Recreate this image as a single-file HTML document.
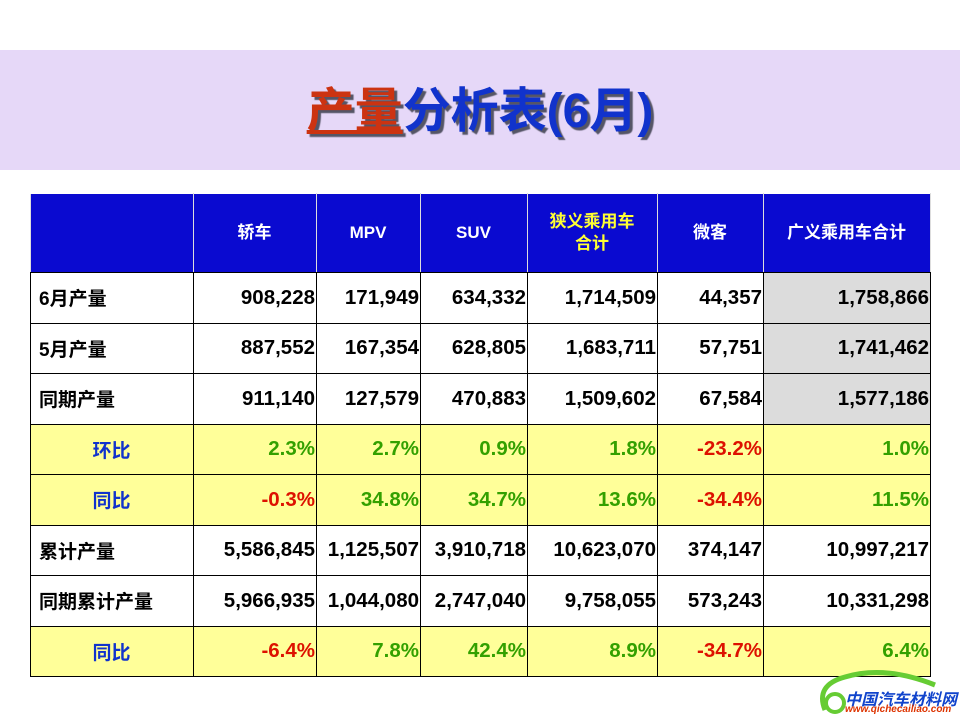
<!DOCTYPE html>
<html><head><meta charset="utf-8"><style>
body{margin:0;width:960px;height:720px;background:#fff;position:relative;overflow:hidden;font-family:"Liberation Sans","Noto Sans CJK SC",sans-serif}
.band{position:absolute;left:0;top:50px;width:960px;height:120px;background:#e6d8f8}
.title{position:absolute;left:0;top:84px;width:960px;text-align:center;font-size:48px;line-height:56px;font-weight:bold;color:#1133cc;text-shadow:3px 3px 1px #556}
.title u{color:#cc3311}
table{position:absolute;left:30px;top:193px;border-collapse:collapse;table-layout:fixed}
td{border:1px solid #000;font-weight:bold;font-size:20.5px;text-align:right;padding:0 1px 0 0;height:49.5px;color:#000;white-space:nowrap}
tr.h td{background:#0a0ad0;color:#fff;text-align:center;font-size:17px;height:78px;border-color:#fff #ddd #000 #ddd;line-height:22px}
td.l{text-align:left;padding-left:8px;font-size:19px}
tr.y td{background:#ffff99}
td.c{text-align:center;color:#1133cc;font-size:19px}
.g{color:#33a000}.r{color:#dd1100}
td.gr{background:#dcdcdc}
</style></head><body>
<div class="band"></div>
<div class="title"><u>产量</u>分析表(6月)</div>
<table>
<colgroup><col style="width:163px"><col style="width:123px"><col style="width:104px"><col style="width:107px"><col style="width:130px"><col style="width:106px"><col style="width:167px"></colgroup>
<tr class="h"><td></td><td>轿车</td><td>MPV</td><td>SUV</td><td style="color:#ffff33">狭义乘用车<br>合计</td><td>微客</td><td>广义乘用车合计</td></tr>
<tr><td class="l">6月产量</td><td>908,228</td><td>171,949</td><td>634,332</td><td>1,714,509</td><td>44,357</td><td class="gr">1,758,866</td></tr>
<tr><td class="l">5月产量</td><td>887,552</td><td>167,354</td><td>628,805</td><td>1,683,711</td><td>57,751</td><td class="gr">1,741,462</td></tr>
<tr><td class="l">同期产量</td><td>911,140</td><td>127,579</td><td>470,883</td><td>1,509,602</td><td>67,584</td><td class="gr">1,577,186</td></tr>
<tr class="y"><td class="c">环比</td><td class="g">2.3%</td><td class="g">2.7%</td><td class="g">0.9%</td><td class="g">1.8%</td><td class="r">-23.2%</td><td class="g">1.0%</td></tr>
<tr class="y"><td class="c">同比</td><td class="r">-0.3%</td><td class="g">34.8%</td><td class="g">34.7%</td><td class="g">13.6%</td><td class="r">-34.4%</td><td class="g">11.5%</td></tr>
<tr><td class="l">累计产量</td><td>5,586,845</td><td>1,125,507</td><td>3,910,718</td><td>10,623,070</td><td>374,147</td><td>10,997,217</td></tr>
<tr><td class="l">同期累计产量</td><td>5,966,935</td><td>1,044,080</td><td>2,747,040</td><td>9,758,055</td><td>573,243</td><td>10,331,298</td></tr>
<tr class="y"><td class="c">同比</td><td class="r">-6.4%</td><td class="g">7.8%</td><td class="g">42.4%</td><td class="g">8.9%</td><td class="r">-34.7%</td><td class="g">6.4%</td></tr>
</table>
<svg style="position:absolute;left:805px;top:665px" width="150" height="55"><path d="M20 45 Q10 20 40 12 Q80 0 130 20" stroke="#66cc33" stroke-width="5" fill="none"/><circle cx="30" cy="38" r="9" stroke="#66cc33" stroke-width="4" fill="none"/></svg>
<div style="position:absolute;left:845px;top:686px;font-size:16px;font-weight:bold;font-style:italic;color:#1144cc">中国汽车材料网</div>
<div style="position:absolute;left:845px;top:704px;font-size:10px;font-weight:bold;font-style:italic;color:#dd3300">www.qichecailiao.com</div>
</body></html>
